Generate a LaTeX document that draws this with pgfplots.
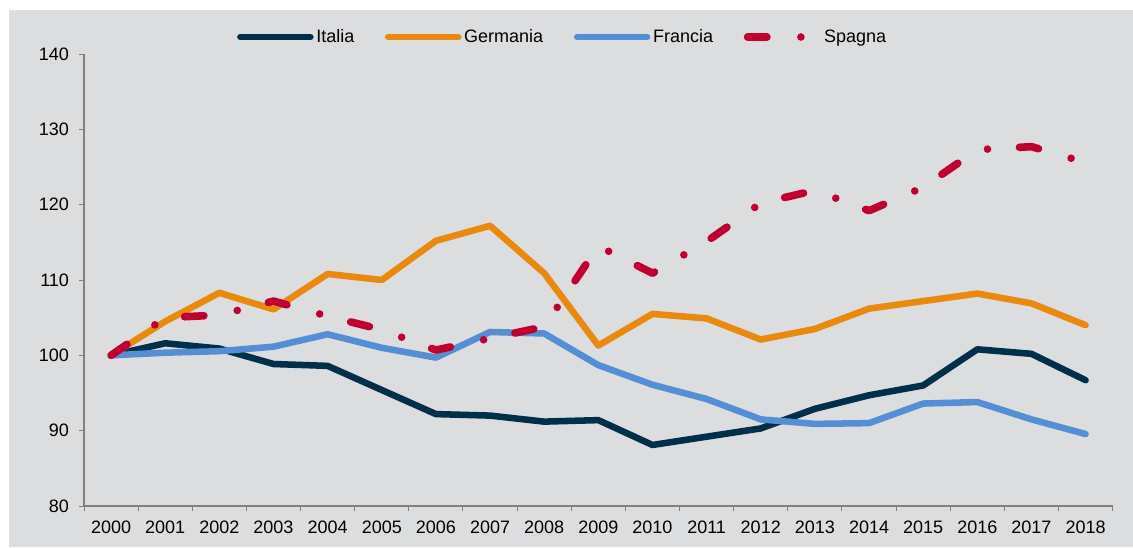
\documentclass[border=0pt]{standalone}
\usepackage{fontspec}
\setmainfont{Liberation Sans}
\usepackage{pgfplots}
\pgfplotsset{compat=1.18}
\definecolor{bgc}{HTML}{DCDDDF}
\definecolor{ita}{HTML}{003049}
\definecolor{ger}{HTML}{E98A0E}
\definecolor{fra}{HTML}{558ED5}
\definecolor{spa}{HTML}{C0002F}
\definecolor{axc}{HTML}{808080}
\begin{document}
\begin{tikzpicture}
\fill[white] (-63pt,-30.75pt) rectangle (786.75pt,379.5pt);
\useasboundingbox (-63pt,-30.75pt) rectangle (786.75pt,379.5pt);
\fill[bgc] (-56.25pt,-30.75pt) rectangle (786.75pt,372pt);
\begin{axis}[
  at={(0,0)}, anchor=south west,
  scale only axis, width=771.5pt, height=339pt,
  xmin=-0.5, xmax=18.5, ymin=80, ymax=140,
  axis x line*=bottom, axis y line*=left,
  axis line style={draw=axc, line width=1pt},
  xtick={-0.5,0.5,...,18.5}, x tick label as interval,
  xticklabels={2000,2001,2002,2003,2004,2005,2006,2007,2008,2009,2010,2011,2012,2013,2014,2015,2016,2017,2018},
  ytick={80,90,...,140},
  tick align=outside, major tick length=3.75pt,
  tick style={draw=axc, line width=0.75pt},
  ticklabel style={font=\fontsize{13.5}{16}\selectfont, text=black},
  xticklabel style={yshift=-3.75pt},
  yticklabel style={xshift=-4pt},
  /pgf/number format/assume math mode=true,
  legend style={at={(0.4656,1.0376)}, anchor=center, draw=none, fill=none,
    font=\fontsize{13.5}{16}\selectfont, /tikz/every even column/.append style={column sep=21pt}},
  legend columns=4,
  legend cell align=left,
  legend image code/.code={\draw[#1] (0pt,0pt) -- (52.5pt,0pt);},
  every axis plot/.append style={line width=4.9pt, line cap=round, line join=round},
]
\addplot[ita] coordinates {(0,100) (1,101.6) (2,100.9) (3,98.85) (4,98.6) (5,95.4) (6,92.2) (7,92.0) (8,91.2) (9,91.4) (10,88.1) (11,89.2) (12,90.3) (13,92.9) (14,94.7) (15,96.0) (16,100.8) (17,100.2) (18,96.7)};
\addlegendentry{Italia}
\addplot[ger] coordinates {(0,100) (1,104.5) (2,108.3) (3,106.1) (4,110.8) (5,110.0) (6,115.2) (7,117.2) (8,110.9) (9,101.3) (10,105.5) (11,104.9) (12,102.1) (13,103.5) (14,106.2) (15,107.2) (16,108.2) (17,106.9) (18,104.0)};
\addlegendentry{Germania}
\addplot[fra] coordinates {(0,100) (1,100.35) (2,100.55) (3,101.15) (4,102.8) (5,101.0) (6,99.7) (7,103.1) (8,102.9) (9,98.7) (10,96.1) (11,94.2) (12,91.5) (13,90.9) (14,91.0) (15,93.6) (16,93.8) (17,91.5) (18,89.55)};
\addlegendentry{Francia}
\addplot[spa, line width=5.7pt, dash pattern=on 14.5pt off 25.5pt on 0pt off 24pt] coordinates {(0,100) (1,105.0) (2,105.35) (3,107.2) (4,105.2) (5,103.4) (6,100.7) (7,102.25) (8,103.8) (9,114.5) (10,110.9) (11,115.1) (12,120.2) (13,121.9) (14,119.2) (15,122.3) (16,127.3) (17,127.7) (18,125.6)};
\addlegendentry{Spagna}
\end{axis}
\end{tikzpicture}
\end{document}
